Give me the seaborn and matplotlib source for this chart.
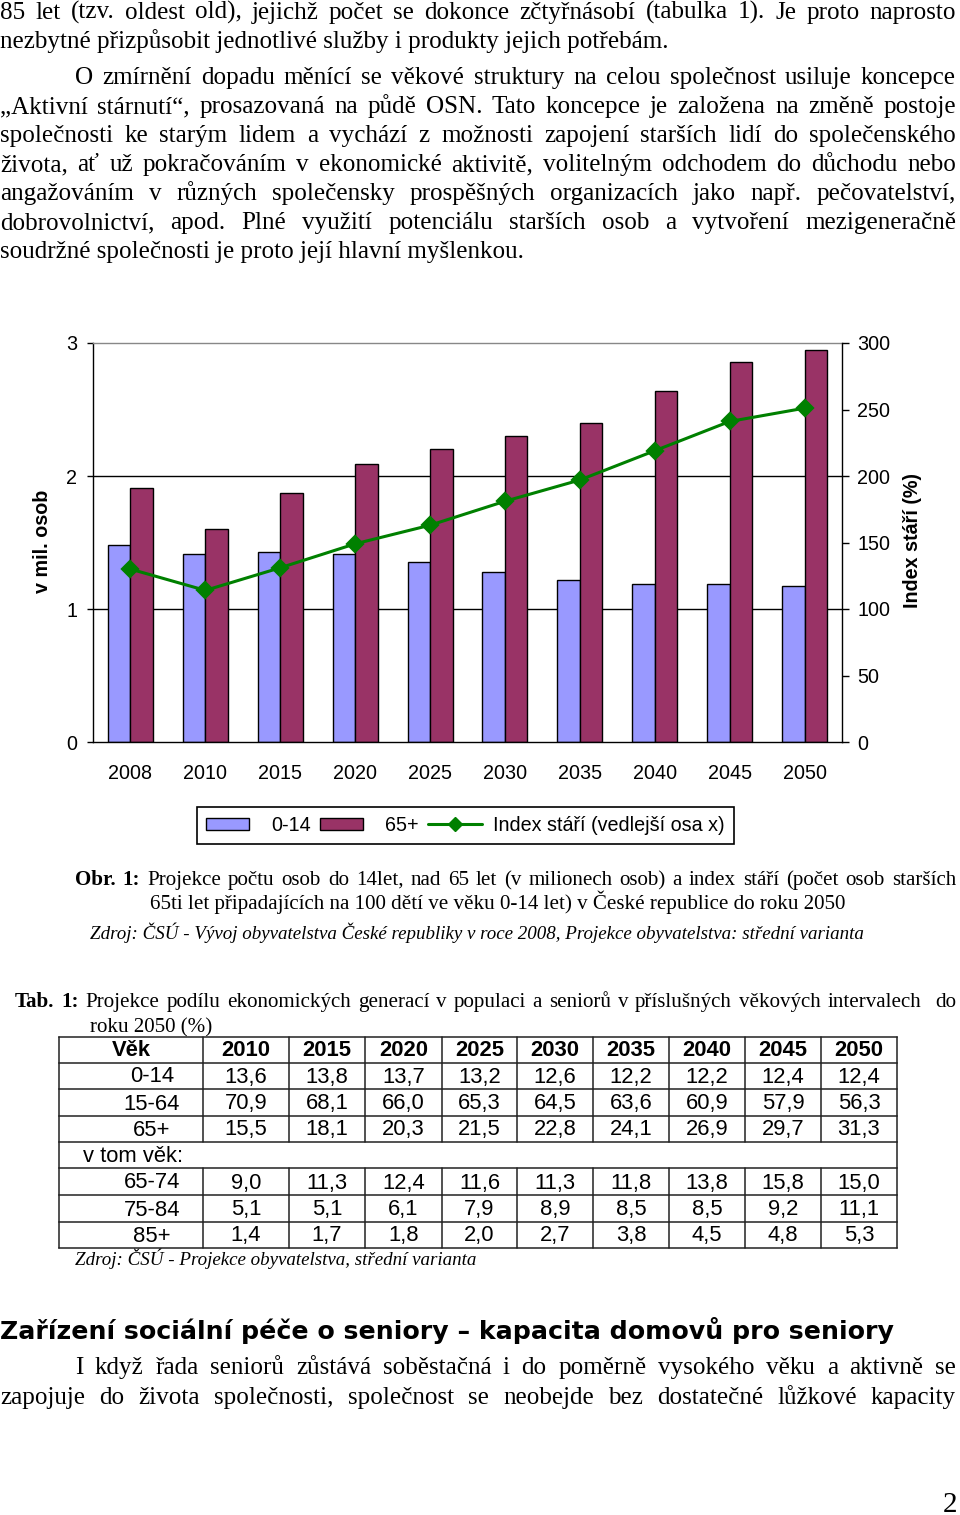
import numpy as np
import pandas as pd
import matplotlib
matplotlib.use("Agg")
import matplotlib.pyplot as plt
import seaborn as sns
from matplotlib.patches import Patch, Rectangle
from matplotlib.lines import Line2D
from matplotlib.legend_handler import HandlerPatch

# ---------------- data ----------------
years = ['2008', '2010', '2015', '2020', '2025', '2030', '2035', '2040', '2045', '2050']
pop_0_14 = [1.48, 1.41, 1.43, 1.41, 1.35, 1.28, 1.22, 1.19, 1.19, 1.17]
pop_65 = [1.91, 1.60, 1.87, 2.09, 2.20, 2.30, 2.40, 2.64, 2.86, 2.95]
index_stari = [130, 114, 131, 149, 163, 181, 197, 219, 241, 251]

left_ticks = [0, 1, 2, 3]
right_ticks = [0, 50, 100, 150, 200, 250, 300]

tab_years = ['2010', '2015', '2020', '2025', '2030', '2035', '2040', '2045', '2050']
tab_0_14 = [13.6, 13.8, 13.7, 13.2, 12.6, 12.2, 12.2, 12.4, 12.4]
tab_15_64 = [70.9, 68.1, 66.0, 65.3, 64.5, 63.6, 60.9, 57.9, 56.3]
tab_65 = [15.5, 18.1, 20.3, 21.5, 22.8, 24.1, 26.9, 29.7, 31.3]
tab_65_74 = [9.0, 11.3, 12.4, 11.6, 11.3, 11.8, 13.8, 15.8, 15.0]
tab_75_84 = [5.1, 5.1, 6.1, 7.9, 8.9, 8.5, 8.5, 9.2, 11.1]
tab_85 = [1.4, 1.7, 1.8, 2.0, 2.7, 3.8, 4.5, 4.8, 5.3]

# ---------------- setup ----------------
sns.set_style("white")
plt.rcParams['font.family'] = ['Liberation Sans', 'DejaVu Sans']
plt.rcParams['text.color'] = 'black'
plt.rcParams['axes.labelcolor'] = 'black'
plt.rcParams['xtick.color'] = 'black'
plt.rcParams['ytick.color'] = 'black'

W, H = 960, 1515
fig = plt.figure(figsize=(W / 100, H / 100), dpi=100)
fig.patch.set_facecolor('white')

page = fig.add_axes([0, 0, 1, 1], zorder=-1)
page.set_xlim(0, W)
page.set_ylim(H, 0)
page.axis('off')

renderer = fig.canvas.get_renderer()

SERIF = ['Liberation Serif', 'DejaVu Serif']
SANS = ['Liberation Sans', 'DejaVu Sans']


def measure(s, **kw):
    if s == '':
        return 0.0
    t = page.text(0, 0, s, **kw)
    w = t.get_window_extent(renderer).width
    t.remove()
    return w


def fit(s, target, **kw):
    return 20.0 * target / measure(s, fontsize=20, **kw)


def justify(x0, x1, y, tokens, fs, family=SERIF):
    ws = [measure(w, fontsize=fs, family=family, fontweight=wt, fontstyle=st)
          for w, wt, st in tokens]
    gap = (x1 - x0 - sum(ws)) / max(len(tokens) - 1, 1)
    x = x0
    for (w, wt, st), wd in zip(tokens, ws):
        if w:
            page.text(x, y, w, fontsize=fs, family=family, fontweight=wt,
                      fontstyle=st, ha='left', va='baseline', color='black')
        x += wd + gap


def plain(s):
    return [(w, 'normal', 'normal') for w in s.split(' ')]


# ---------------- body text ----------------
fs_body = fit('nezbytné přizpůsobit jednotlivé služby i produkty jejich potřebám.', 668, family=SERIF)
R = 956
justify(0, R, 19, plain('85 let (tzv. oldest old), jejichž počet se dokonce zčtyřnásobí (tabulka 1). Je proto naprosto'), fs_body)
page.text(0, 48, 'nezbytné přizpůsobit jednotlivé služby i produkty jejich potřebám.', fontsize=fs_body,
          family=SERIF, ha='left', va='baseline', color='black')
justify(75, R, 84, plain('O zmírnění dopadu měnící se věkové struktury na celou společnost usiluje koncepce'), fs_body)
justify(0, R, 113, plain('„Aktivní stárnutí“, prosazovaná na půdě OSN. Tato koncepce je založena na změně postoje'), fs_body)
justify(0, R, 142, plain('společnosti ke starým lidem a vychází z možnosti zapojení starších lidí do společenského'), fs_body)
justify(0, R, 171, plain('života, ať už pokračováním v ekonomické aktivitě, volitelným odchodem do důchodu nebo'), fs_body)
justify(0, R, 200, plain('angažováním v různých společensky prospěšných organizacích jako např. pečovatelství,'), fs_body)
justify(0, R, 229, plain('dobrovolnictví, apod. Plné využití potenciálu starších osob a vytvoření mezigeneračně'), fs_body)
page.text(0, 258, 'soudržné společnosti je proto její hlavní myšlenkou.', fontsize=fs_body,
          family=SERIF, ha='left', va='baseline', color='black')

# ---------------- chart ----------------
ax_l, ax_r, ax_t, ax_b = 93, 842, 343, 742
ax = fig.add_axes([ax_l / W, 1 - ax_b / H, (ax_r - ax_l) / W, (ax_b - ax_t) / H])

df = pd.DataFrame({
    'year': years * 2,
    'value': pop_0_14 + pop_65,
    'group': ['0-14'] * len(years) + ['65+'] * len(years),
})
c_blue, c_red, c_green = '#9999FF', '#993366', '#008000'
sns.barplot(data=df, x='year', y='value', hue='group', palette=[c_blue, c_red],
            width=0.6, saturation=1, edgecolor='black', linewidth=1.0,
            legend=False, ax=ax, zorder=2)

ax2 = ax.twinx()
sns.pointplot(x=years, y=index_stari, ax=ax2, color=c_green, markers='D',
              markersize=8.5, linewidth=2.2, errorbar=None)

ax.set_xlim(-0.5, len(years) - 0.5)
ax.set_ylim(0, 3)
ax2.set_ylim(0, 300)
ax.set_yticks(left_ticks)
ax2.set_yticks(right_ticks)
ax.set_xlabel('')
ax.set_ylabel('')
ax2.set_ylabel('')

fs_tick = fit('2008', 44, family=SANS)
ax.set_xticks(range(len(years)))
ax.set_xticklabels(years)
ax.set_xticks(np.arange(-0.5, len(years), 1), minor=True)
ax.tick_params(axis='x', which='major', length=0, pad=16, labelsize=fs_tick, colors='black')
ax.tick_params(axis='x', which='minor', length=4.5, width=1, direction='out', color='black')
ax.tick_params(axis='y', length=4.5, width=1, direction='out', pad=7, labelsize=fs_tick,
               colors='black', left=True)
ax2.tick_params(axis='y', length=5, width=1, direction='out', pad=6, labelsize=fs_tick,
                colors='black', right=True)

ax.set_axisbelow(True)
ax.yaxis.grid(True, color='black', linewidth=1.0)
ax.xaxis.grid(False)
gls = ax.get_ygridlines()
gls[0].set_visible(False)
gls[-1].set_visible(False)
for s in ['left', 'bottom']:
    ax.spines[s].set_color('black')
    ax.spines[s].set_linewidth(1.0)
ax.spines['top'].set_color('#888888')
ax.spines['top'].set_linewidth(1.0)
ax.spines['right'].set_visible(False)
for s in ['left', 'bottom', 'top']:
    ax2.spines[s].set_visible(False)
ax2.spines['right'].set_color('black')
ax2.spines['right'].set_linewidth(1.0)
ax2.grid(False)

fig.text(43 / W, 1 - 541 / H, 'v mil. osob', rotation=90, ha='center', va='center',
         fontsize=fs_tick, fontweight='bold', family=SANS, color='black')
fig.text(912 / W, 1 - 540 / H, 'Index stáří (%)', rotation=90, ha='center', va='center',
         fontsize=fs_tick, fontweight='bold', family=SANS, color='black')


def narrow_patch(legend, orig_handle, xdescent, ydescent, width, height, fontsize):
    return Rectangle((-xdescent, -ydescent), width * 0.79, height)


handles = [Patch(facecolor=c_blue, edgecolor='black', linewidth=1.0),
           Patch(facecolor=c_red, edgecolor='black', linewidth=1.0),
           Line2D([], [], color=c_green, marker='D', linewidth=2.2, markersize=7)]
leg = fig.legend(handles=handles, labels=['0-14', '65+', 'Index stáří (vedlejší osa x)'],
                 ncol=3, loc='center', bbox_to_anchor=(465.5 / W, 1 - 825.5 / H),
                 frameon=True, fancybox=False, edgecolor='black', framealpha=1,
                 fontsize=fs_tick, handlelength=2.75, handleheight=0.6,
                 handletextpad=0.55, columnspacing=0.45, borderpad=0.45,
                 handler_map={Patch: HandlerPatch(patch_func=narrow_patch)})
leg.get_frame().set_linewidth(1.2)

# ---------------- figure caption ----------------
fs_cap = fit('65ti let připadajících na 100 dětí ve věku 0-14 let) v České republice do roku 2050', 695, family=SERIF)
cap_tokens = [('Obr.', 'bold', 'normal'), ('1:', 'bold', 'normal')] + \
    plain('Projekce počtu osob do 14let, nad 65 let (v milionech osob) a index stáří (počet osob starších')
justify(75, R, 885, cap_tokens, fs_cap)
page.text(150, 909, '65ti let připadajících na 100 dětí ve věku 0-14 let) v České republice do roku 2050',
          fontsize=fs_cap, family=SERIF, ha='left', va='baseline', color='black')
src1 = 'Zdroj: ČSÚ - Vývoj obyvatelstva České republiky v roce 2008, Projekce obyvatelstva: střední varianta'
fs_src = fit(src1, 776, family=SERIF, fontstyle='italic')
page.text(90, 939, src1, fontsize=fs_src, family=SERIF, fontstyle='italic', ha='left', va='baseline',
          color='black')

# ---------------- table caption ----------------
tab_tokens = [('Tab.', 'bold', 'normal'), ('1:', 'bold', 'normal')] + \
    plain('Projekce podílu ekonomických generací v populaci a seniorů v příslušných věkových intervalech') + \
    [('', 'normal', 'normal'), ('do', 'normal', 'normal')]
justify(15, R, 1007, tab_tokens, fs_cap)
page.text(90, 1032, 'roku 2050 (%)', fontsize=fs_cap, family=SERIF, ha='left', va='baseline', color='black')

# ---------------- table ----------------
col_x = [59, 203, 289, 365, 442, 517, 593, 669, 745, 821, 897]
row_y = [1037, 1063, 1089, 1116, 1142, 1168, 1195, 1222, 1248]
lc, lw = '#222222', 1.1
page.add_patch(plt.Rectangle((col_x[0], row_y[0]), col_x[-1] - col_x[0], row_y[-1] - row_y[0],
                             facecolor='white', edgecolor='none', zorder=1))
for y in row_y:
    page.plot([col_x[0], col_x[-1]], [y, y], color=lc, lw=lw, zorder=3, solid_capstyle='projecting')
for i, x in enumerate(col_x):
    if i in (0, len(col_x) - 1):
        page.plot([x, x], [row_y[0], row_y[-1]], color=lc, lw=lw, zorder=3)
    else:
        page.plot([x, x], [row_y[0], row_y[4]], color=lc, lw=lw, zorder=3)
        page.plot([x, x], [row_y[5], row_y[-1]], color=lc, lw=lw, zorder=3)

fs_tab = fit('70,9', 43, family=SANS)
centers = [(col_x[i] + col_x[i + 1]) / 2 for i in range(len(col_x) - 1)]


def fmt(v):
    return f'{v:.1f}'.replace('.', ',')


def base(r):
    return row_y[r + 1] - 6.5


page.text(centers[0], base(0), 'Věk', fontsize=fs_tab, fontweight='bold', family=SANS,
          ha='center', va='baseline', zorder=4, color='black')
for j, yr in enumerate(tab_years):
    page.text(centers[j + 1], base(0), yr, fontsize=fs_tab, fontweight='bold', family=SANS,
              ha='center', va='baseline', zorder=4, color='black')

rows = [(1, '0-14', tab_0_14), (2, '15-64', tab_15_64), (3, '65+', tab_65),
        (5, '65-74', tab_65_74), (6, '75-84', tab_75_84), (7, '85+', tab_85)]
for r, lab, vals in rows:
    page.text(152, base(r), lab, fontsize=fs_tab, family=SANS, ha='center', va='baseline', zorder=4,
              color='black')
    for j, v in enumerate(vals):
        page.text(centers[j + 1], base(r), fmt(v), fontsize=fs_tab, family=SANS,
                  ha='center', va='baseline', zorder=4, color='black')
page.text(83, base(4), 'v tom věk:', fontsize=fs_tab, family=SANS, ha='left', va='baseline', zorder=4,
          color='black')

page.text(75, 1265, 'Zdroj: ČSÚ - Projekce obyvatelstva, střední varianta', fontsize=fs_src,
          family=SERIF, fontstyle='italic', ha='left', va='baseline', color='black')

# ---------------- heading + paragraph ----------------
head = 'Zařízení sociální péče o seniory – kapacita domovů pro seniory'
fs_head = fit(head, 893, family=['DejaVu Sans'], fontweight='bold')
page.text(0, 1339, head, fontsize=fs_head, family=['DejaVu Sans'], fontweight='bold',
          ha='left', va='baseline', color='black')
justify(75, R, 1374, plain('I když řada seniorů zůstává soběstačná i do poměrně vysokého věku a aktivně se'), fs_body)
justify(0, R, 1404, plain('zapojuje do života společnosti, společnost se neobejde bez dostatečné lůžkové kapacity'), fs_body)

page.text(957, 1512, '2', fontsize=21, family=SERIF, ha='right', va='baseline', color='black')

fig.savefig('out.png', dpi=100, facecolor='white')
